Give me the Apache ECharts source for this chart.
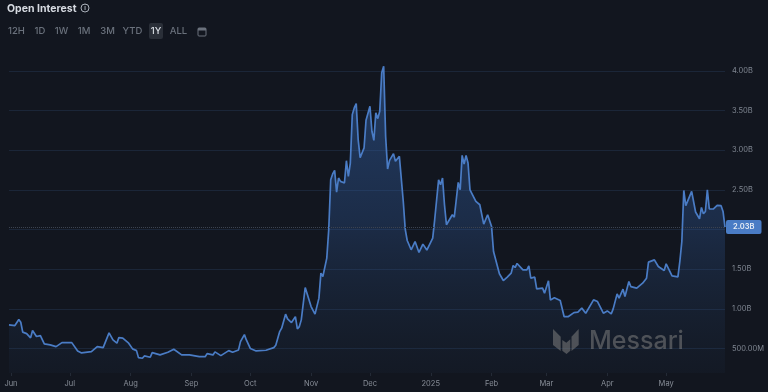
<!DOCTYPE html>
<html>
<head>
<meta charset="utf-8">
<style>
  html, body { margin: 0; padding: 0; background: #12161f; }
  #chart { width: 768px; height: 392px; }
</style>
<script src="https://cdn.jsdelivr.net/npm/echarts@6/dist/echarts.min.js"></script>
</head>
<body>
<div id="chart"></div>
<script>
const titleText = "Open Interest";
const rangeLabels = ["12H", "1D", "1W", "1M", "3M", "YTD", "1Y", "ALL"];
const rangeX = [16.5, 40, 61.5, 84, 107.5, 132.5, 156, 178.5];
const activeRange = "1Y";
const monthLabels = ["2025", "Feb", "Mar", "Apr", "May", "Jun", "Jul", "Aug", "Sep", "Oct", "Nov", "Dec"];
const startDate = Date.UTC(2024, 5, 1);

// days since 1 Jun 2024
const days = [
  -1, 2, 4, 5, 6, 8, 10, 11, 12, 13, 15, 17, 20, 23, 26, 27, 31, 34, 35, 36, 41, 44, 47, 50, 51, 52, 54, 55, 57, 60,
  62, 64, 65, 67, 68, 71, 72, 76, 80, 83, 87, 91, 92, 96, 99, 100, 103, 104, 107, 111, 113, 116, 117, 119, 120, 122,
  125, 130, 131, 134, 135, 136, 137, 138, 140, 141, 142, 143, 145, 146, 147, 148, 150, 153, 154, 155, 157, 158, 159,
  161, 162, 163, 164, 165, 166, 167, 168, 169, 170, 171, 172, 173, 174, 175, 176, 177, 178, 180, 181, 182, 183, 184,
  185, 186, 187, 188, 189, 190, 191, 192, 193, 195, 196, 198, 199, 200, 201, 202, 204, 206, 207, 208, 210, 212, 213,
  215, 216, 217, 218, 219, 220, 221, 222, 225, 226, 227, 228, 229, 230, 231, 232, 233, 234, 235, 237, 238, 239, 241,
  242, 243, 244, 245, 246, 249, 251, 253, 255, 256, 257, 258, 261, 263, 264, 265, 267, 268, 271, 272, 273, 274, 275,
  277, 280, 282, 284, 285, 287, 288, 289, 290, 291, 293, 294, 297, 298, 299, 302, 303, 304, 306, 307, 308, 309, 310,
  311, 312, 313, 315, 316, 319, 322, 323, 324, 325, 328, 329, 330, 333, 334, 337, 340, 341, 342, 343, 344, 347, 348,
  349, 350, 351, 352, 353, 354, 355, 356, 358, 360, 362, 363, 364
];

// open interest in billions, same order as days
const openInterest = [
  0.797, 0.788, 0.864, 0.83, 0.705, 0.687, 0.633, 0.725, 0.70, 0.65, 0.662, 0.557, 0.544, 0.523, 0.573, 0.56, 0.573,
  0.468, 0.49, 0.443, 0.46, 0.523, 0.51, 0.696, 0.69, 0.607, 0.566, 0.636, 0.629, 0.566,
  0.494, 0.472, 0.384, 0.376, 0.405, 0.389, 0.447, 0.418, 0.452, 0.49, 0.418, 0.418, 0.40, 0.396, 0.396, 0.434, 0.418,
  0.456, 0.409, 0.472, 0.452, 0.481, 0.586, 0.674, 0.607, 0.50,
  0.468, 0.477, 0.50, 0.51, 0.54, 0.54, 0.712, 0.755, 0.932, 0.872, 0.889, 0.826, 0.90, 0.746, 0.775, 0.86, 1.268,
  1.028, 1.003, 0.932, 1.134, 1.449, 1.407,
  1.639, 2.0, 2.627, 2.70, 2.745, 2.47, 2.649, 2.606, 2.627, 2.586, 2.867, 2.669, 2.838, 3.448, 3.533, 3.587, 3.133,
  2.905, 3.028, 3.376, 3.385, 3.553, 3.238,
  3.124, 3.47, 3.398, 3.49, 3.975, 4.058, 3.174, 2.763, 2.871, 2.956, 2.859, 2.922, 2.90, 2.35, 2.0, 1.861, 1.744,
  1.848, 1.848, 1.71, 1.815, 1.74, 1.753,
  1.891, 2.122, 2.375, 2.627, 2.564, 2.649, 2.312, 2.059, 2.185, 2.156, 2.375, 2.594, 2.5, 2.934, 2.826, 2.934, 2.838,
  2.50, 2.48, 2.353, 2.375, 2.312, 2.068,
  2.072, 2.185, 2.198, 2.038, 1.722, 1.441, 1.356, 1.399, 1.449, 1.546, 1.52, 1.571, 1.491, 1.491, 1.542, 1.386, 1.399,
  1.251, 1.26, 1.197, 1.217, 1.352, 1.112,
  1.138, 1.104, 0.90, 0.90, 0.881, 0.952, 0.932, 0.957, 0.944, 1.008, 0.944, 0.965, 1.112, 1.129, 1.091, 0.944, 0.936,
  0.973, 0.936, 0.999, 0.995, 1.188, 1.134,
  1.146, 1.247, 1.154, 1.343, 1.28, 1.26, 1.323, 1.314, 1.386, 1.588, 1.617, 1.60, 1.533, 1.482, 1.567, 1.415, 1.403,
  1.6, 1.848, 2.492, 2.30, 2.48, 2.46,
  2.22, 2.207, 2.135, 2.278, 2.198, 2.227, 2.5, 2.258, 2.258, 2.303, 2.30, 2.227, 2.03
];

const seriesData = days.map((d, i) => [startDate + d * 86400000, openInterest[i]]);
const lastValue = openInterest[openInterest.length - 1];

const formatValue = (v) => (v >= 1 ? v.toFixed(2) + "B" : (v * 1000).toFixed(2) + "M");

const rangeButtons = rangeLabels.map((label, i) => ({
  type: "text",
  x: rangeX[i],
  y: 31,
  silent: true,
  style: {
    text: label,
    fill: label === activeRange ? "#d9dde4" : "#6a717c",
    font: "500 9.5px Inter",
    align: "center",
    verticalAlign: "middle",
  },
}));

const myChart = echarts.init(document.getElementById("chart"));

myChart.setOption({
  useUTC: true,
  animation: false,
  backgroundColor: "#12161f",
  title: {
    text: titleText,
    left: 7,
    top: 3,
    padding: 0,
    textStyle: { color: "#d6dae1", fontFamily: "Inter", fontSize: 10.5, fontWeight: 700 },
  },
  grid: { left: 9, right: 43, top: 55, bottom: 19, outerBoundsMode: "none" },
  tooltip: { trigger: "axis" },
  xAxis: {
    type: "time",
    min: startDate - 86400000,
    max: startDate + 364 * 86400000,
    splitNumber: 12,
    axisLine: { show: false },
    axisTick: { show: true, length: 3, lineStyle: { color: "#232a36" } },
    splitLine: { show: false },
    axisLabel: {
      color: "#878d97",
      fontFamily: "Inter",
      fontSize: 7.5,
      margin: 7,
      showMinLabel: false,
      showMaxLabel: false,
      hideOverlap: false,
      formatter: (val) => monthLabels[new Date(val).getUTCMonth()],
    },
  },
  yAxis: {
    type: "value",
    position: "right",
    min: 0.19,
    max: 4.2,
    splitNumber: 8,
    axisLine: { show: false },
    axisTick: { show: false },
    splitLine: {
      showMinLine: false,
      showMaxLine: false,
      lineStyle: { color: "#1b2638", width: 1 },
    },
    axisLabel: {
      color: "#7f8691",
      fontFamily: "Inter",
      fontSize: 7.5,
      margin: 7,
      showMinLabel: false,
      showMaxLabel: false,
      formatter: formatValue,
    },
  },
  series: [
    {
      name: titleText,
      type: "line",
      data: seriesData,
      showSymbol: false,
      symbol: "none",
      lineStyle: { color: "#4a7cc5", width: 1.7 },
      itemStyle: { color: "#4a7cc5" },
      areaStyle: {
        color: new echarts.graphic.LinearGradient(0, 0, 0, 1, [
          { offset: 0, color: "rgba(52,100,170,0.72)" },
          { offset: 0.5, color: "rgba(50,95,165,0.44)" },
          { offset: 1, color: "rgba(40,70,110,0.1)" },
        ]),
      },
      markLine: {
        silent: true,
        symbol: "none",
        animation: false,
        lineStyle: { color: "#3c4350", type: "dotted", width: 1 },
        label: {
          position: "end",
          formatter: () => formatValue(lastValue),
          color: "#e8edf5",
          fontFamily: "Inter",
          fontSize: 7.5,
          fontWeight: 600,
          backgroundColor: "#4a7cc5",
          borderRadius: 2,
          padding: [3, 7, 3, 7],
          distance: 1,
        },
        data: [{ yAxis: lastValue }],
      },
    },
  ],
  graphic: [
    // info icon next to the title
    { type: "circle", shape: { cx: 85, cy: 8, r: 4 }, silent: true, style: { fill: "none", stroke: "#a9afb8", lineWidth: 1 } },
    { type: "text", x: 85, y: 8, silent: true, style: { text: "i", fill: "#a9afb8", font: "700 6px Inter", align: "center", verticalAlign: "middle" } },
    // selected range highlight
    { type: "rect", shape: { x: 149, y: 23, width: 14, height: 16, r: 2 }, silent: true, style: { fill: "#2a2f38" } },
    ...rangeButtons,
    // calendar icon
    { type: "rect", shape: { x: 198, y: 28, width: 8, height: 8, r: 1 }, silent: true, style: { fill: "none", stroke: "#6a717c", lineWidth: 1 } },
    { type: "rect", shape: { x: 198, y: 28, width: 8, height: 2.5 }, silent: true, style: { fill: "#6a717c" } },
    // Messari watermark
    { type: "polygon", z: 20, shape: { points: [[553, 329], [560.7, 336.7], [560.7, 351], [553, 345]] }, silent: true, style: { fill: "rgba(125,125,125,0.55)" } },
    { type: "polygon", z: 20, shape: { points: [[562.3, 340], [566.3, 342.7], [570.3, 339.3], [570.3, 350.7], [566.5, 354], [562.3, 350.7]] }, silent: true, style: { fill: "rgba(125,125,125,0.55)" } },
    { type: "polygon", z: 20, shape: { points: [[578.7, 329], [571.5, 336.7], [571.5, 351], [578.7, 345]] }, silent: true, style: { fill: "rgba(125,125,125,0.55)" } },
    { type: "text", z: 20, x: 589, y: 341, silent: true, style: { text: "Messari", fill: "rgba(125,125,125,0.55)", font: "500 25px Inter", align: "left", verticalAlign: "middle" } },
  ],
});
</script>
</body>
</html>
